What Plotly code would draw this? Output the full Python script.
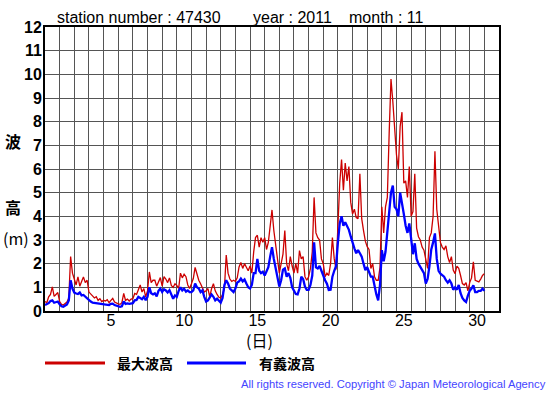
import plotly.graph_objects as go

# observation times (hours since 1 Nov 00:00), 3-hourly
hours = list(range(0, 721, 3))

# 最大波高 (max wave height, m)
max_wave = [
    0.40, 0.35, 0.60, 0.70, 1.02, 0.62, 0.70, 0.78,
    0.40, 0.28, 0.25, 0.30, 0.38, 0.55, 2.30, 1.60,
    1.35, 1.10, 1.44, 1.05, 1.25, 1.44, 1.20, 1.30,
    0.80, 0.70, 0.60, 0.55, 0.60, 0.45, 0.52, 0.40,
    0.45, 0.42, 0.48, 0.35, 0.45, 0.53, 0.38, 0.32,
    0.30, 0.28, 0.35, 0.74, 0.45, 0.50, 0.42, 0.50,
    0.52, 0.74, 0.70, 0.90, 1.10, 0.80, 0.95, 0.60,
    0.85, 1.65, 1.20, 1.30, 1.30, 1.05, 1.20, 1.41,
    1.05, 1.45, 1.35, 1.20, 1.40, 1.08, 1.00, 1.15,
    1.08, 0.95, 1.60, 1.40, 1.55, 1.45, 1.10, 0.95,
    1.15, 1.37, 1.84, 1.50, 1.30, 1.15, 0.95, 0.80,
    0.85, 0.95, 0.60, 0.95, 1.15, 0.85, 0.70, 0.58,
    0.55, 0.70, 0.95, 2.36, 1.60, 1.35, 1.25, 1.30,
    1.25, 1.40, 1.86, 2.05, 1.80, 2.00, 1.85, 1.70,
    1.90, 1.60, 2.50, 3.10, 3.20, 2.70, 3.10, 2.90,
    3.10, 2.60, 2.90, 3.70, 4.27, 3.40, 2.80, 2.10,
    1.60, 2.00, 2.40, 3.40, 2.00, 1.70, 2.30, 1.90,
    1.60, 2.00, 1.60, 2.55, 2.20, 2.30, 1.45, 1.30,
    1.45, 1.80, 2.50, 4.80, 3.30, 3.10, 3.00, 2.20,
    2.00, 1.45, 1.60, 1.50, 2.00, 3.10, 2.20, 1.75,
    3.50, 5.40, 6.40, 5.10, 6.25, 5.50, 6.10, 4.60,
    4.10, 4.30, 3.95, 3.90, 5.80, 3.90, 3.40, 2.95,
    2.72, 2.60, 1.80, 2.00, 1.45, 1.30, 1.30, 1.85,
    4.40, 3.30, 4.40, 4.80, 7.50, 9.80, 8.85, 7.50,
    6.60, 6.00, 7.80, 8.40, 5.40, 5.50, 4.80, 6.10,
    4.00, 4.20, 5.80, 3.50, 3.14, 3.00, 2.70, 2.57,
    2.10, 1.80, 3.10, 3.30, 4.00, 6.75, 4.30, 3.42,
    2.90, 2.70, 2.60, 2.75, 2.30, 2.05, 2.30, 1.73,
    1.58, 1.90, 1.80, 1.50, 1.16, 1.10, 1.20, 0.85,
    1.20, 1.40, 2.08, 1.30, 1.25, 1.23, 1.35, 1.50,
    1.58,
]

# 有義波高 (significant wave height, m)
sig_wave = [
    0.25, 0.28, 0.33, 0.42, 0.45, 0.35, 0.38, 0.40,
    0.28, 0.20, 0.18, 0.22, 0.28, 0.45, 1.30, 0.95,
    0.78, 0.74, 0.72, 0.78, 0.66, 0.68, 0.60, 0.52,
    0.46, 0.40, 0.35, 0.34, 0.32, 0.30, 0.30, 0.30,
    0.28, 0.28, 0.27, 0.25, 0.30, 0.31, 0.25, 0.22,
    0.20, 0.18, 0.20, 0.40, 0.30, 0.32, 0.30, 0.30,
    0.33, 0.45, 0.47, 0.60, 0.55, 0.50, 0.60, 0.46,
    0.60, 1.00, 0.75, 0.70, 0.75, 0.62, 0.85, 0.95,
    0.80, 0.92, 0.87, 0.78, 0.88, 0.68, 0.52, 0.66,
    0.60, 0.85, 1.00, 0.87, 0.94, 0.82, 0.87, 0.80,
    0.80, 0.87, 1.16, 1.00, 0.95, 0.80, 0.87, 0.60,
    0.40, 0.45, 0.60, 0.70, 0.60, 0.45, 0.52, 0.45,
    0.35, 0.55, 1.10, 1.30, 1.16, 0.95, 0.85, 0.80,
    0.95, 1.20, 1.25, 1.37, 1.25, 1.33, 1.16, 1.00,
    0.95, 1.10, 1.60, 1.60, 2.20, 1.70, 1.60, 1.66,
    1.50, 1.70, 1.85, 2.30, 2.70, 2.20, 1.80, 1.40,
    1.03, 1.30, 1.75, 1.80, 1.45, 1.60, 1.40, 1.00,
    0.88, 0.72, 0.70, 0.95, 1.45, 1.35, 1.03, 0.89,
    0.89, 1.10, 1.50, 2.90, 1.85, 1.80, 1.90, 1.70,
    1.45, 1.30, 1.15, 0.89, 0.90, 1.45, 1.70, 1.90,
    2.90, 3.70, 4.00, 3.60, 3.75, 3.60, 3.43, 3.15,
    2.85, 2.65, 2.44, 2.58, 2.44, 2.30, 2.00, 1.73,
    1.85, 1.60, 1.45, 1.45, 1.05, 0.70, 0.45, 1.10,
    2.57, 2.10, 2.50, 3.30, 4.30, 5.00, 5.30, 4.40,
    4.30, 4.00, 5.00, 4.60, 4.10, 3.60, 3.30, 3.70,
    3.10, 2.40, 2.86, 2.20, 2.00, 1.87, 1.73, 1.60,
    1.16, 1.35, 1.90, 2.60, 2.90, 3.28, 2.20, 1.70,
    1.58, 1.50, 1.45, 1.30, 1.20, 1.30, 1.16, 0.90,
    1.00, 0.90, 1.10, 0.75, 0.55, 0.45, 0.38, 0.65,
    0.85, 0.95, 1.09, 0.80, 0.80, 0.85, 0.85, 0.95,
    0.85,
]

label_days = [5, 10, 15, 20, 25, 30]
label_text = ["5", "10", "15", "20", "25", "30"]
y_ticks = list(range(0, 13))

x = [1 + h / 24 for h in hours]

W, H = 555, 395
L, R, T, B = 45, 499, 27, 311   # plot area in pixels


def px(xp):
    return (xp - L) / (R - L)


def py(yp):
    return (B - yp) / (B - T)


fig = go.Figure()
fig.add_trace(go.Scatter(x=x, y=max_wave, mode="lines", name="最大波高",
                         line=dict(color="#cc0000", width=1.3), showlegend=False))
fig.add_trace(go.Scatter(x=x, y=sig_wave, mode="lines", name="有義波高",
                         line=dict(color="#0000ff", width=2.3), showlegend=False))

grid = "#555555"
fig.update_layout(
    width=W, height=H,
    margin=dict(l=L, r=W - R, t=T, b=H - B, pad=0),
    paper_bgcolor="white", plot_bgcolor="white",
    xaxis=dict(
        range=[1, 32], tickmode="array",
        tickvals=[d + 0.5 for d in label_days], ticktext=label_text,
        showgrid=False, zeroline=False, ticks="", ticklabelstandoff=-6,
        minor=dict(tickmode="linear", tick0=1, dtick=1, showgrid=True,
                   gridcolor=grid, gridwidth=1, ticks=""),
        showline=True, linecolor="black", linewidth=2, mirror=True,
        tickfont=dict(family="Liberation Sans", size=16, color="black"),
    ),
    yaxis=dict(
        range=[0, 12], tickmode="array", tickvals=y_ticks,
        ticktext=[str(v) for v in y_ticks],
        showgrid=True, gridcolor=grid, gridwidth=1, zeroline=False, ticks="",
        ticklabelstandoff=-2,
        showline=True, linecolor="black", linewidth=2, mirror=True,
        tickfont=dict(family="Liberation Sans", size=16, color="black", weight="bold"),
    ),
)

ann = []
tfont = dict(family="Liberation Sans", size=16, color="black")
ann.append(dict(text="station number : 47430", x=px(55), y=py(17), xanchor="left", yanchor="middle", font=tfont))
ann.append(dict(text="year : 2011", x=px(251), y=py(17), xanchor="left", yanchor="middle", font=tfont))
ann.append(dict(text="month : 11", x=px(347), y=py(17), xanchor="left", yanchor="middle", font=tfont))

jfont = dict(family="Noto Sans CJK JP", size=16, color="black", weight="bold")
ann.append(dict(text="波", x=px(13), y=py(141), xanchor="center", yanchor="middle", font=jfont))
ann.append(dict(text="高", x=px(13), y=py(207), xanchor="center", yanchor="middle", font=jfont))
ann.append(dict(text="(m)", x=px(1), y=py(238), xanchor="left", yanchor="middle",
                font=dict(family="Noto Sans CJK JP", size=16, color="black")))
ann.append(dict(text="(日)", x=px(259), y=py(340), xanchor="center", yanchor="middle",
                font=dict(family="Noto Sans CJK JP", size=16, color="black")))

lfont = dict(family="Noto Sans CJK JP", size=14, color="black", weight="bold")
ann.append(dict(text="最大波高", x=px(115), y=py(363), xanchor="left", yanchor="middle", font=lfont))
ann.append(dict(text="有義波高", x=px(257), y=py(363), xanchor="left", yanchor="middle", font=lfont))

ann.append(dict(text="All rights reserved. Copyright © Japan Meteorological Agency",
                x=px(548), y=py(384), xanchor="right", yanchor="middle",
                font=dict(family="Liberation Sans", size=11.2, color="#4444ff")))

for a in ann:
    a.update(xref="paper", yref="paper", showarrow=False)
fig.update_layout(annotations=ann)

fig.update_layout(shapes=[
    dict(type="line", xref="paper", yref="paper", x0=px(45), x1=px(105), y0=py(363), y1=py(363),
         line=dict(color="#cc0000", width=3)),
    dict(type="line", xref="paper", yref="paper", x0=px(187), x1=px(246), y0=py(363), y1=py(363),
         line=dict(color="#0000ff", width=3)),
])

fig.write_html("out.html", config={"displayModeBar": False},
               post_script="document.body.style.margin='0';")
